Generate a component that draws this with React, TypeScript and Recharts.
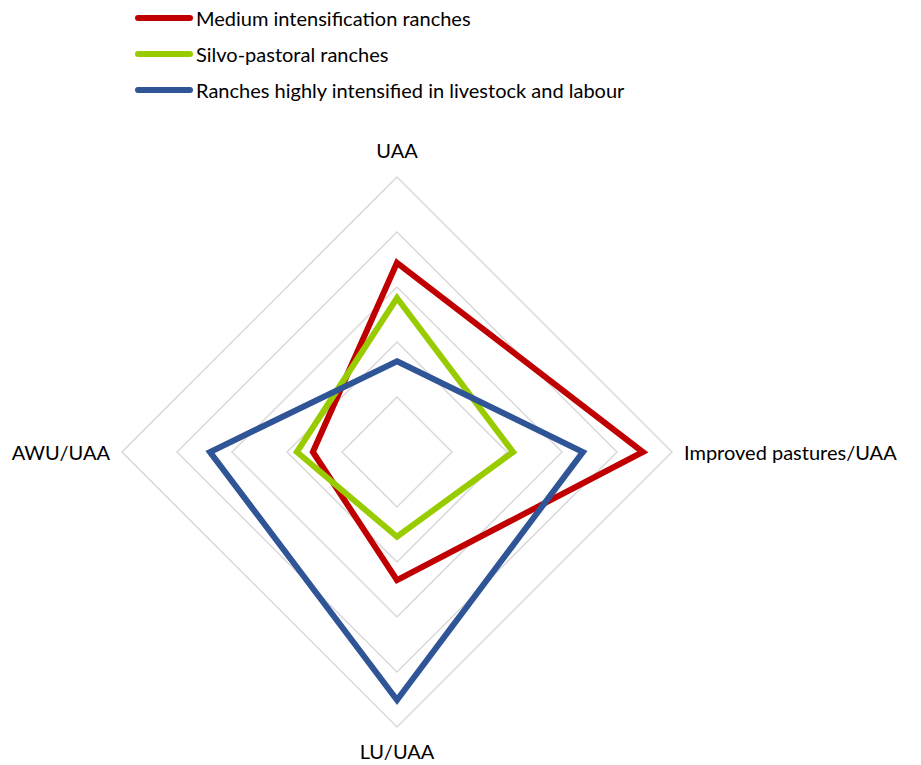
import { Legend, PolarAngleAxis, PolarGrid, PolarRadiusAxis, Radar, RadarChart } from "recharts"

const axes = ["UAA", "Improved pastures/UAA", "LU/UAA", "AWU/UAA"]
const medium = [3.44, 4.47, 2.33, 1.53]
const silvo = [2.8, 2.11, 1.54, 1.82]
const highly = [1.65, 3.38, 4.51, 3.4]

const seriesNames = [
  "Medium intensification ranches",
  "Silvo-pastoral ranches",
  "Ranches highly intensified in livestock and labour",
]
const colors = ["#c00000", "#99cc00", "#2f5597"]

const data = axes.map((axis, i) => ({
  axis,
  medium: medium[i],
  silvo: silvo[i],
  highly: highly[i],
}))

const CX = 389
const CY = 444
const R = 275
const FONT = "Lato, 'Open Sans', sans-serif"

function AngleTick(props: any) {
  const angle = props.payload.coordinate
  const rad = (angle * Math.PI) / 180
  const vertical = Math.abs(Math.sin(rad)) > 0.5
  const off = vertical ? (Math.sin(rad) > 0 ? 27 : 24) : 12
  const x = CX + Math.cos(rad) * (R + off)
  const y = CY - Math.sin(rad) * (R + off)
  let anchor = "middle"
  if (!vertical) anchor = Math.cos(rad) > 0 ? "start" : "end"
  return (
    <text x={x} y={y} textAnchor={anchor} dominantBaseline="central" fill="#000" fontSize={20} fontFamily={FONT}>
      {props.payload.value}
    </text>
  )
}

function LegendBox() {
  return (
    <svg width={800} height={110}>
      {seriesNames.map((name, i) => (
        <g key={name}>
          <line x1={130} x2={182} y1={10 + i * 36} y2={10 + i * 36} stroke={colors[i]} strokeWidth={6} strokeLinecap="round" />
          <text x={188} y={10 + i * 36} dominantBaseline="central" fontSize={20} fontFamily={FONT} fill="#000">
            {name}
          </text>
        </g>
      ))}
    </svg>
  )
}

export default function App() {
  return (
    <RadarChart width={913} height={757} data={data} cx={CX} cy={CY} outerRadius={R} startAngle={90} endAngle={-270}>
      <PolarGrid gridType="polygon" radialLines={false} stroke="#d9d9d9" strokeWidth={1.5} />
      <PolarAngleAxis dataKey="axis" tick={AngleTick} axisLine={false} tickLine={false} />
      <PolarRadiusAxis domain={[0, 5]} tickCount={6} tick={false} axisLine={false} />
      <Radar dataKey="medium" name={seriesNames[0]} stroke={colors[0]} strokeWidth={6} fill="none" fillOpacity={0} isAnimationActive={false} />
      <Radar dataKey="silvo" name={seriesNames[1]} stroke={colors[1]} strokeWidth={6} fill="none" fillOpacity={0} isAnimationActive={false} />
      <Radar dataKey="highly" name={seriesNames[2]} stroke={colors[2]} strokeWidth={6} fill="none" fillOpacity={0} isAnimationActive={false} />
      <Legend content={<LegendBox />} wrapperStyle={{ position: "absolute", top: 0, left: 0, width: 800 }} />
    </RadarChart>
  )
}
